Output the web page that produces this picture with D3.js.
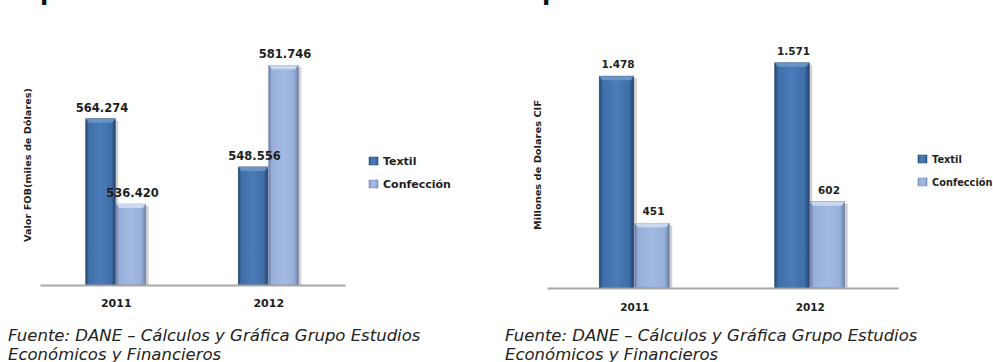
<!DOCTYPE html>
<html>
<head>
<meta charset="utf-8">
<script src="https://cdn.jsdelivr.net/npm/d3@7"></script>
<style>
  html, body { margin: 0; padding: 0; background: #fff; }
  svg { display: block; }
  text { font-family: "DejaVu Sans", Verdana, sans-serif; }
</style>
</head>
<body>
<svg id="chart" width="993" height="362"></svg>
<script>
// ---------- DATA ----------
const categories = ["2011", "2012"];
const seriesNames = ["Textil", "Confección"];
const exportTextil = [564274, 548556];
const exportConfeccion = [536420, 581746];
const importTextil = [1478, 1571];
const importConfeccion = [451, 602];
const titles = ["Exportaciones", "Importaciones"];
const yLabels = ["Valor FOB(miles de Dólares)", "Millones de Dolares CIF"];
const sourceLines = ["Fuente: DANE – Cálculos y Gráfica Grupo Estudios", "Económicos y Financieros"];

const locale = d3.formatLocale({decimal: ",", thousands: ".", grouping: [3], currency: ["$", ""]});
const fmt = locale.format(",d");

const svg = d3.select("#chart");
const defs = svg.append("defs");

const palettes = [
  {edge: "#24446f", main: "#3f6ea8", light: "#4a7cb8", bevel: "#6f97c8"},
  {edge: "#6c7fa6", main: "#97afd8", light: "#a3bbe2", bevel: "#cfdcf2"}
];
palettes.forEach((p, i) => {
  const g = defs.append("linearGradient").attr("id", "grad" + i)
    .attr("x1", "0%").attr("x2", "100%").attr("y1", "0%").attr("y2", "0%");
  g.append("stop").attr("offset", "0%").attr("stop-color", p.edge);
  g.append("stop").attr("offset", "10%").attr("stop-color", p.main);
  g.append("stop").attr("offset", "50%").attr("stop-color", p.light);
  g.append("stop").attr("offset", "86%").attr("stop-color", p.main);
  g.append("stop").attr("offset", "100%").attr("stop-color", p.edge);
});

function drawChart(cfg) {
  const g = svg.append("g");
  const x0 = d3.scaleBand().domain(categories).range([cfg.left, cfg.right]);
  const x1 = d3.scaleBand().domain(seriesNames)
    .range([0, cfg.barW * 2]);
  const y = d3.scaleLinear().domain(cfg.domain).range([cfg.base, cfg.top]);

  // title (cut off at top in the reference)
  g.append("text").attr("x", cfg.titleX).attr("y", 0)
    .attr("font-size", 24).attr("font-weight", "bold").attr("fill", "#111")
    .text(cfg.title);

  const data = [];
  categories.forEach((c, ci) => {
    seriesNames.forEach((s, si) => {
      data.push({cat: c, ser: s, si: si, v: cfg.values[si][ci]});
    });
  });

  const bx = d => x0(d.cat) + x0.bandwidth() / 2 - cfg.barW + x1(d.ser);

  // shadows
  g.selectAll("rect.shadow").data(data).join("rect")
    .attr("class", "shadow")
    .attr("x", d => bx(d) + 2).attr("y", d => y(d.v) + 2)
    .attr("width", x1.bandwidth()).attr("height", d => cfg.base - y(d.v) - 2)
    .attr("fill", "#000").attr("opacity", 0.18);

  g.selectAll("rect.bar").data(data).join("rect")
    .attr("class", "bar")
    .attr("x", d => bx(d)).attr("y", d => y(d.v))
    .attr("width", x1.bandwidth() - 1).attr("height", d => cfg.base - y(d.v))
    .attr("fill", d => `url(#grad${d.si})`)
    .attr("stroke", d => palettes[d.si].edge).attr("stroke-width", 0.6);

  // top bevel
  g.selectAll("path.bevel").data(data).join("path")
    .attr("class", "bevel")
    .attr("d", d => {
      const xl = bx(d), xr = bx(d) + x1.bandwidth() - 1, yt = y(d.v);
      return `M${xl},${yt}L${xr},${yt}L${xr - 3},${yt + 4}L${xl + 3},${yt + 4}Z`;
    })
    .attr("fill", d => palettes[d.si].bevel).attr("opacity", 0.9);

  // value labels
  g.selectAll("text.val").data(data).join("text")
    .attr("class", "val")
    .attr("x", d => bx(d) + x1.bandwidth() / 2 + 1)
    .attr("y", d => y(d.v) - cfg.labelOff)
    .attr("text-anchor", "middle").attr("font-weight", "bold")
    .attr("font-size", cfg.valSize).attr("fill", "#1e1e1e")
    .text(d => fmt(d.v));

  // x axis
  const axis = g.append("g").attr("transform", `translate(0,${cfg.base})`)
    .call(d3.axisBottom(x0).tickSize(0).tickSizeOuter(0).tickPadding(cfg.tickPad));
  axis.select(".domain").attr("stroke", "#a6a6a6").attr("stroke-width", 2);
  axis.selectAll("text").attr("font-family", "DejaVu Sans, sans-serif")
    .attr("font-weight", "bold").attr("font-size", cfg.catSize).attr("fill", "#1e1e1e");

  // y label
  g.append("text")
    .attr("transform", `translate(${cfg.yLabX},${cfg.yLabY}) rotate(-90)`)
    .attr("text-anchor", "middle").attr("font-weight", "bold")
    .attr("font-size", 8.5).attr("fill", "#1e1e1e")
    .attr("textLength", cfg.yLabLen).attr("lengthAdjust", "spacingAndGlyphs")
    .text(cfg.yLabel);

  // legend
  seriesNames.forEach((s, si) => {
    const ly = cfg.legY[si];
    g.append("rect").attr("x", cfg.legX).attr("y", ly - 8)
      .attr("width", 9).attr("height", 8)
      .attr("fill", `url(#grad${si})`).attr("stroke", palettes[si].edge).attr("stroke-width", 0.5);
    g.append("text").attr("x", cfg.legX + 14).attr("y", ly)
      .attr("font-weight", "bold").attr("font-size", cfg.legSize).attr("fill", "#1e1e1e")
      .text(s);
  });

  // source
  sourceLines.forEach((t, i) => {
    g.append("text").attr("x", cfg.srcX).attr("y", [341, 360][i])
      .attr("font-style", "italic").attr("font-size", 16.5).attr("fill", "#222")
      .text(t);
  });
}

drawChart({
  title: titles[0], titleX: 8,
  left: 40, right: 345, base: 285, top: 40, domain: [510000, 590000],
  barW: 30.5, values: [exportTextil, exportConfeccion],
  labelOff: 7, valSize: 11.5, catSize: 11, tickPad: 14,
  yLabel: yLabels[0], yLabX: 31, yLabY: 165, yLabLen: 154,
  legX: 369, legY: [165, 188], legSize: 11,
  srcX: 8
});

drawChart({
  title: titles[1], titleX: 508,
  left: 547, right: 898, base: 288, top: 30, domain: [0, 1800],
  barW: 35.5, values: [importTextil, importConfeccion],
  labelOff: 8, valSize: 10.5, catSize: 10.5, tickPad: 16,
  yLabel: yLabels[1], yLabX: 541, yLabY: 165, yLabLen: 130,
  legX: 918, legY: [163, 186], legSize: 9.8,
  srcX: 505
});
</script>
</body>
</html>
